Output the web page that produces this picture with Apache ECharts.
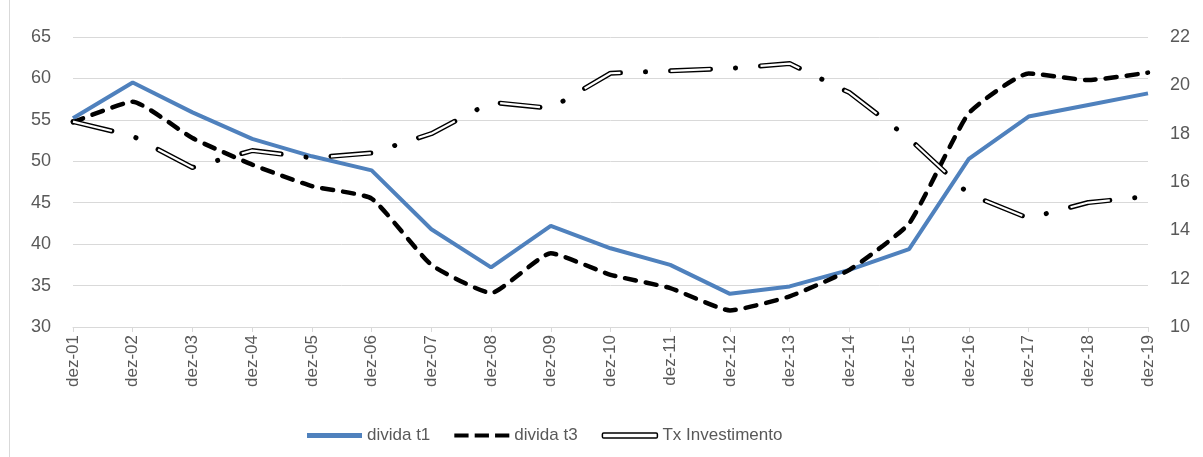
<!DOCTYPE html>
<html>
<head>
<meta charset="utf-8">
<script src="https://cdn.jsdelivr.net/npm/echarts@6/dist/echarts.min.js"></script>
<style>
  html, body { margin: 0; padding: 0; background: #fff; }
  #chart { width: 1203px; height: 457px; }
</style>
</head>
<body>
<div id="chart"></div>
<script>
// dados
const anos = ['dez-01', 'dez-02', 'dez-03', 'dez-04', 'dez-05', 'dez-06', 'dez-07', 'dez-08', 'dez-09', 'dez-10',
  'dez-11', 'dez-12', 'dez-13', 'dez-14', 'dez-15', 'dez-16', 'dez-17', 'dez-18', 'dez-19']
const dividaT1 = [55.2, 59.5, 55.9, 52.7, 50.6, 48.9, 41.8, 37.2, 42.2, 39.5, 37.5, 34.0, 34.9, 36.9, 39.4, 50.3, 55.4, 56.8, 58.2]
const dividaT3 = [54.7, 57.2, 52.8, 49.6, 47.0, 45.5, 37.5, 34.1, 38.9, 36.3, 34.7, 32.0, 33.7, 36.9, 42.5, 55.8, 60.6, 59.8, 60.7]
const txInvest = [18.5, 17.9, 16.6, 17.3, 17.0, 17.2, 18.0, 19.3, 19.05, 20.5, 20.6, 20.7, 20.9, 19.7, 17.8, 15.5, 14.5, 15.15, 15.4]

const font = 'Liberation Sans'
const txtColor = '#595959'
const gridColor = '#d9d9d9'

const chart = echarts.init(document.getElementById('chart'))

const option = {
  animation: false,
  textStyle: { fontFamily: font },
  graphic: [{
    type: 'rect',
    silent: true,
    shape: { x: 9.5, y: -5, width: 1300, height: 1000 },
    style: { fill: 'none', stroke: gridColor, lineWidth: 1 }
  }],
  grid: { left: 73, right: 55, top: 37, bottom: 130 },
  legend: {
    left: 302,
    top: 422,
    itemWidth: 55,
    itemHeight: 5,
    itemGap: 24,
    textStyle: { fontFamily: font, fontSize: 17, color: txtColor },
    data: [
      { name: 'divida t1', icon: 'rect', itemStyle: { color: '#4f81bd' } },
      { name: 'divida t3', icon: 'path://M0,0h14v4h-14z M20,0h14v4h-14z M40,0h14v4h-14z', itemStyle: { color: '#000' } },
      { name: 'Tx Investimento', icon: 'roundRect', itemStyle: { color: '#fff', borderColor: '#000', borderWidth: 1.5 } }
    ]
  },
  xAxis: {
    type: 'category',
    data: anos,
    boundaryGap: false,
    axisLine: { lineStyle: { color: gridColor, width: 1 } },
    axisTick: { show: true, length: 5, lineStyle: { color: gridColor } },
    axisLabel: { rotate: 90, fontSize: 17, color: txtColor, margin: 8, fontFamily: font }
  },
  yAxis: [
    {
      type: 'value',
      min: 30, max: 65, interval: 5,
      axisLine: { show: false },
      axisTick: { show: false },
      splitLine: { lineStyle: { color: gridColor, width: 1 } },
      axisLabel: { fontSize: 18, color: txtColor, margin: 22, fontFamily: font }
    },
    {
      type: 'value',
      min: 10, max: 22, interval: 2,
      axisLine: { show: false },
      axisTick: { show: false },
      splitLine: { show: false },
      axisLabel: { fontSize: 18, color: txtColor, margin: 22, fontFamily: font }
    }
  ],
  series: [
    {
      name: 'divida t1',
      type: 'line',
      data: dividaT1,
      symbol: 'none',
      lineStyle: { color: '#4f81bd', width: 4 },
      z: 2
    },
    {
      name: 'divida t3',
      type: 'line',
      data: dividaT3,
      symbol: 'none',
      smooth: 0.15,
      lineStyle: { color: '#000', width: 4.5, type: [11, 10], cap: 'round' },
      z: 3
    },
    {
      name: 'Tx Investimento',
      type: 'line',
      yAxisIndex: 1,
      data: txInvest,
      symbol: 'none',
      lineStyle: { color: '#000', width: 5, type: [40, 25, 0.1, 25], cap: 'round', join: 'round' },
      z: 4
    },
    {
      name: 'Tx core',
      type: 'line',
      yAxisIndex: 1,
      data: txInvest,
      symbol: 'none',
      silent: true,
      lineStyle: { color: '#fff', width: 2.2, type: [40, 50.1], cap: 'butt', join: 'round' },
      z: 5
    }
  ]
}

chart.setOption(option)
</script>
</body>
</html>
